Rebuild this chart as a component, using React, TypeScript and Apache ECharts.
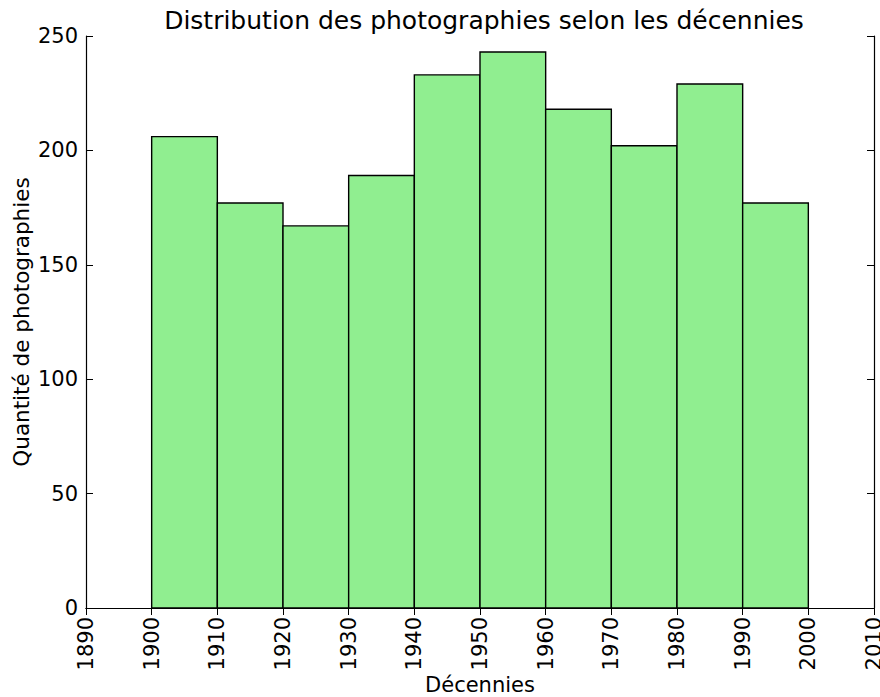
import React, { useEffect, useRef } from "react";
import * as echarts from "echarts";

const binStarts = [1900, 1910, 1920, 1930, 1940, 1950, 1960, 1970, 1980, 1990];
const binWidth = 10;
const counts = [206, 177, 167, 189, 233, 243, 218, 202, 229, 177];
const title = "Distribution des photographies selon les décennies";
const xName = "Décennies";
const yName = "Quantité de photographies";

const FONT = "DejaVu Sans";

export default function App() {
  const ref = useRef<HTMLDivElement>(null);
  useEffect(() => {
    document.body.style.margin = "0";
    document.body.style.overflow = "hidden";
    if (!ref.current) return;
    const chart = echarts.init(ref.current, undefined, { renderer: "svg" });
    const data = binStarts.map((s, i) => [s, s + binWidth, counts[i]]);
    const axisCommon = {
      axisLine: { show: true, lineStyle: { color: "#000", width: 1.2 } },
      axisTick: { show: true, inside: true, length: 7, lineStyle: { color: "#000", width: 1 } },
      splitLine: { show: false },
    };
    chart.setOption({
      animation: false,
      backgroundColor: "#fff",
      title: {
        text: title,
        left: 479,
        textAlign: "center",
        top: 3,
        textStyle: { fontFamily: FONT, fontSize: 25, fontWeight: "normal", color: "#000" },
      },
      grid: {
        left: 86,
        right: 6,
        top: 36,
        bottom: 89,
        containLabel: false,
        outerBoundsMode: "none",
      },
      xAxis: [
        {
          type: "value",
          min: 1890,
          max: 2010,
          interval: 10,
          position: "bottom",
          name: xName,
          nameLocation: "middle",
          nameMoveOverlap: false,
          nameGap: 66,
          nameTextStyle: { fontFamily: FONT, fontSize: 21, color: "#000" },
          axisLabel: {
            rotate: 90,
            margin: 9,
            fontFamily: FONT,
            fontSize: 21,
            color: "#000",
            formatter: (v: number) => String(v),
          },
          ...axisCommon,
        },
        {
          type: "value",
          min: 1890,
          max: 2010,
          interval: 10,
          position: "top",
          axisLabel: { show: false },
          ...axisCommon,
        },
      ],
      yAxis: [
        {
          type: "value",
          min: 0,
          max: 250,
          interval: 50,
          position: "left",
          name: yName,
          nameLocation: "middle",
          nameMoveOverlap: false,
          nameGap: 54,
          nameTextStyle: { fontFamily: FONT, fontSize: 21.5, color: "#000" },
          axisLabel: { margin: 8, fontFamily: FONT, fontSize: 21, color: "#000" },
          ...axisCommon,
        },
        {
          type: "value",
          min: 0,
          max: 250,
          interval: 50,
          position: "right",
          axisLabel: { show: false },
          ...axisCommon,
        },
      ],
      series: [
        {
          type: "custom",
          xAxisIndex: 0,
          yAxisIndex: 0,
          encode: { x: [0, 1], y: 2 },
          data,
          renderItem: (params: any, api: any) => {
            const p0 = api.coord([api.value(0), 0]);
            const p1 = api.coord([api.value(1), api.value(2)]);
            return {
              type: "rect",
              shape: { x: p0[0], y: p1[1], width: p1[0] - p0[0], height: p0[1] - p1[1] },
              style: { fill: "#90ee90", stroke: "#000", lineWidth: 1.4 },
            };
          },
        },
      ],
    });
    return () => chart.dispose();
  }, []);
  return <div ref={ref} style={{ width: 880, height: 697 }} />;
}
